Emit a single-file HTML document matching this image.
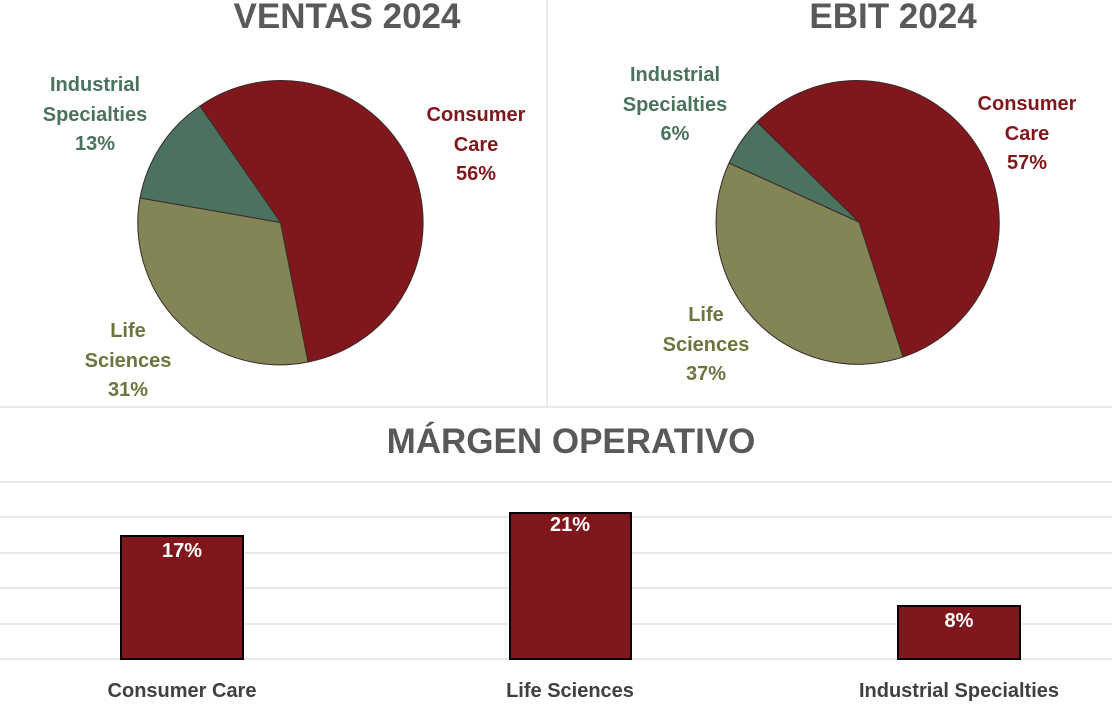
<!DOCTYPE html>
<html><head><meta charset="utf-8"><style>
body{margin:0;width:1112px;height:708px;background:#fff;overflow:hidden}
svg text{font-family:"Liberation Sans",sans-serif;font-weight:bold}
</style></head><body>
<svg width="1112" height="708" xmlns="http://www.w3.org/2000/svg">
<line x1="547" y1="0" x2="547" y2="407" stroke="#d9d9d9" stroke-width="1"/>
<g stroke="#d9d9d9" stroke-width="1.3">
<line x1="0" y1="407" x2="1112" y2="407"/>
<line x1="0" y1="482" x2="1112" y2="482"/>
<line x1="0" y1="517" x2="1112" y2="517"/>
<line x1="0" y1="553" x2="1112" y2="553"/>
<line x1="0" y1="588" x2="1112" y2="588"/>
<line x1="0" y1="624" x2="1112" y2="624"/>
<line x1="0" y1="659" x2="1112" y2="659"/>
</g>
<text x="347" y="28" font-size="35" fill="#595959" text-anchor="middle">VENTAS 2024</text>
<text x="893" y="28" font-size="35" fill="#595959" text-anchor="middle">EBIT 2024</text>
<text x="571" y="453" font-size="35" fill="#595959" text-anchor="middle">MÁRGEN OPERATIVO</text>
<g stroke="#3a2a2a" stroke-width="1">
<path d="M280.5,222.5 L200,106 A142,142 0 1 1 308,362 Z" fill="#80171c"/>
<path d="M280.5,222.5 L308,362 A142,142 0 0 1 140,198 Z" fill="#848556"/>
<path d="M280.5,222.5 L140,198 A142,142 0 0 1 200,106 Z" fill="#4a725e"/>
<path d="M859,222 L757,122 A142,142 0 1 1 903,357 Z" fill="#80171c"/>
<path d="M859,222 L903,357 A142,142 0 0 1 729,163 Z" fill="#848556"/>
<path d="M859,222 L729,163 A142,142 0 0 1 757,122 Z" fill="#4a725e"/>
</g>
<g font-size="20" text-anchor="middle">
<text fill="#4a725e"><tspan x="95" y="91">Industrial</tspan><tspan x="95" y="121">Specialties</tspan><tspan x="95" y="150">13%</tspan></text>
<text fill="#80171c"><tspan x="476" y="121">Consumer</tspan><tspan x="476" y="151">Care</tspan><tspan x="476" y="180">56%</tspan></text>
<text fill="#6f733e"><tspan x="128" y="337">Life</tspan><tspan x="128" y="367">Sciences</tspan><tspan x="128" y="396">31%</tspan></text>
<text fill="#4a725e"><tspan x="675" y="81">Industrial</tspan><tspan x="675" y="111">Specialties</tspan><tspan x="675" y="140">6%</tspan></text>
<text fill="#80171c"><tspan x="1027" y="110">Consumer</tspan><tspan x="1027" y="140">Care</tspan><tspan x="1027" y="169">57%</tspan></text>
<text fill="#6f733e"><tspan x="706" y="321">Life</tspan><tspan x="706" y="351">Sciences</tspan><tspan x="706" y="380">37%</tspan></text>
</g>
<g fill="#80171c" stroke="#000" stroke-width="2">
<rect x="121" y="536" width="122" height="123"/>
<rect x="510" y="513" width="121" height="146"/>
<rect x="898" y="606" width="122" height="53"/>
</g>
<g font-size="20" fill="#fff" text-anchor="middle">
<text x="182" y="557">17%</text>
<text x="570" y="531">21%</text>
<text x="959" y="627">8%</text>
</g>
<g font-size="20" fill="#404040" text-anchor="middle">
<text x="182" y="697">Consumer Care</text>
<text x="570" y="697">Life Sciences</text>
<text x="959" y="697">Industrial Specialties</text>
</g>
</svg>
</body></html>
